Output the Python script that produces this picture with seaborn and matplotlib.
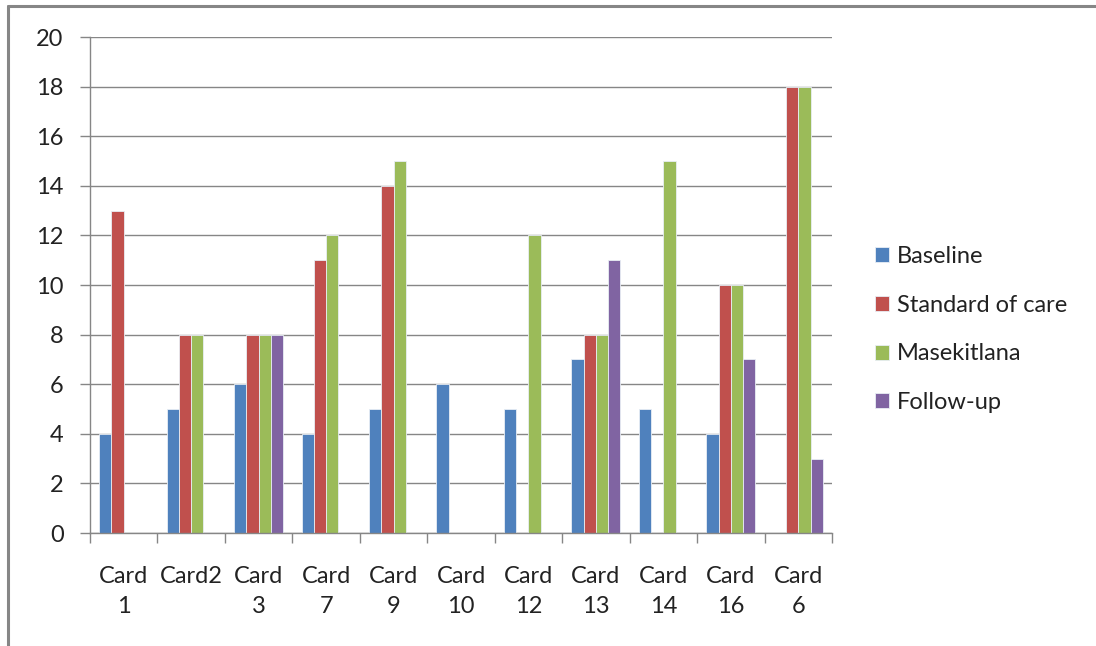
import seaborn as sns
import pandas as pd
import matplotlib.pyplot as plt
from matplotlib.lines import Line2D

cards = ["Card\n1", "Card2", "Card\n3", "Card\n7", "Card\n9", "Card\n10",
         "Card\n12", "Card\n13", "Card\n14", "Card\n16", "Card\n6"]
baseline = [4, 5, 6, 4, 5, 6, 5, 7, 5, 4, 0]
standard_of_care = [13, 8, 8, 11, 14, 0, 0, 8, 0, 10, 18]
masekitlana = [0, 8, 8, 12, 15, 0, 12, 8, 15, 10, 18]
follow_up = [0, 0, 8, 0, 0, 0, 0, 11, 0, 7, 3]

series = ["Baseline", "Standard of care", "Masekitlana", "Follow-up"]
colors = ["#4F81BD", "#C0504D", "#9BBB59", "#8064A2"]

df = pd.DataFrame({"card": cards, "Baseline": baseline,
                   "Standard of care": standard_of_care,
                   "Masekitlana": masekitlana, "Follow-up": follow_up})
long = df.melt(id_vars="card", var_name="series", value_name="value")

sns.set_theme(style="white")
plt.rcParams["font.family"] = ["Lato", "DejaVu Sans"]

fig = plt.figure(figsize=(10.96, 6.46), dpi=100)
ax = fig.add_axes([90 / 1096, 113 / 646, 742 / 1096, 496 / 646])

sns.barplot(data=long, x="card", y="value", hue="series", hue_order=series,
            palette=colors, width=4 / 5.5, gap=0, saturation=1,
            edgecolor="#e8eef5", linewidth=0.6, errorbar=None, ax=ax)

grid_c = "#868686"
fs = 17
ax.set_ylim(0, 20)
ax.set_xlim(-0.5, len(cards) - 0.5)
ax.set_yticks(range(0, 21, 2))
ax.yaxis.grid(True, color=grid_c, linewidth=1)
ax.set_axisbelow(True)
for s in ["top", "right"]:
    ax.spines[s].set_visible(False)
for s in ["left", "bottom"]:
    ax.spines[s].set_color(grid_c)
    ax.spines[s].set_linewidth(1)

# category boundaries get the tick marks, labels sit on minor ticks
ax.set_xticks([i + 0.5 for i in range(-1, len(cards))], minor=False)
ax.set_xticklabels([""] * (len(cards) + 1))
ax.set_xticks(range(len(cards)), minor=True)
ax.set_xticklabels(cards, minor=True, fontsize=fs, color="#222222",
                   linespacing=1.5)
ax.tick_params(axis="x", which="major", direction="out", length=7,
               color=grid_c, width=1, bottom=True)
ax.tick_params(axis="x", which="minor", length=0, pad=24)
ax.tick_params(axis="y", direction="out", length=7, color=grid_c, width=1,
               left=True, labelsize=fs, labelcolor="#222222", pad=12)
ax.set_xlabel("")
ax.set_ylabel("")

leg = ax.legend(loc="center left", bbox_to_anchor=(1.029, 0.41), frameon=False,
                fontsize=fs, handlelength=0.6, handleheight=0.6,
                handletextpad=0.35, labelspacing=1.17)
for t in leg.get_texts():
    t.set_color("#222222")

fig.add_artist(Line2D([8 / 1096, 1], [640 / 646, 640 / 646],
                      color=grid_c, linewidth=2.2))
fig.add_artist(Line2D([8 / 1096, 8 / 1096], [0, 640 / 646],
                      color=grid_c, linewidth=2.2))

fig.savefig("out.png", dpi=100, facecolor="white")
